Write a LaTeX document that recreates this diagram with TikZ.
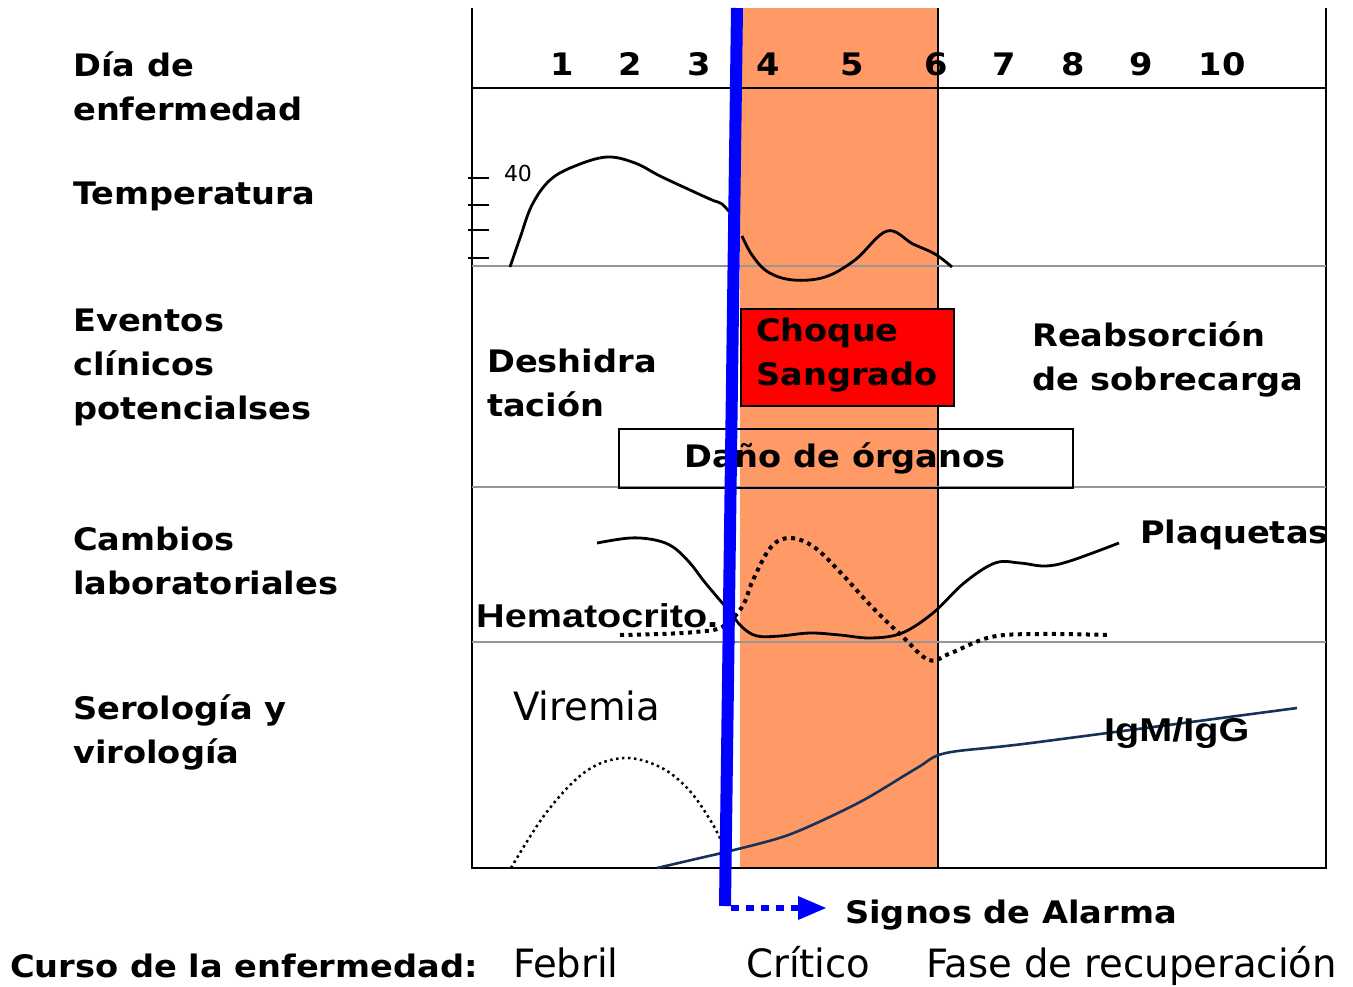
\documentclass[tikz,border=0pt]{standalone}
\usepackage{fontspec}
\setmainfont{DejaVu Sans}
\newfontfamily\vb[FakeStretch=1.085]{DejaVu Sans Bold}
\newfontfamily\ab[FakeStretch=1.2]{Liberation Sans Bold}
\newfontfamily\cn[FakeStretch=1.1]{DejaVu Sans Condensed}
\newfontfamily\djsans{DejaVu Sans}
\usetikzlibrary{arrows.meta}
\definecolor{band}{RGB}{255,153,102}
\definecolor{navy}{RGB}{22,50,90}
\definecolor{grayline}{RGB}{150,150,150}
\tikzset{
  lab/.style={anchor=west,align=left,inner sep=0pt,font=\vb\fontsize{31}{44}\selectfont},
  num/.style={inner sep=0pt,font=\vb\fontsize{31}{37}\selectfont},
  reg/.style={anchor=base west,inner sep=0pt,font=\cn\fontsize{39}{46}\selectfont},
  frame/.style={line width=2pt,black},
  sep/.style={line width=1.8pt,grayline},
  curve/.style={line width=2.8pt,black},
  dotc/.style={line width=4pt,black,dash pattern=on 4pt off 4.5pt},
  dotthin/.style={line width=2.5pt,black,dash pattern=on 2.5pt off 3.5pt},
}
\begin{document}
\begin{tikzpicture}[x=1pt,y=-1pt]
\useasboundingbox (0,0) rectangle (1353,986);
\fill[white] (0,0) rectangle (1353,986);
% orange band
\fill[band] (740,8) rectangle (938,868);
% frame
\draw[frame] (472,8) -- (472,868) -- (1326,868) -- (1326,8);
\draw[frame] (472,88) -- (1326,88);
\draw[frame] (938,8) -- (938,868);
\draw[sep] (472,266) -- (1326,266);
\draw[sep] (472,487) -- (1326,487);
\draw[sep] (472,642) -- (1326,642);
% day numbers
\foreach \x/\t in {562/1,630/2,699/3,768/4,852/5,936/6,1004/7,1073/8,1141/9,1222/10}
  \node[num] (d\t) at (\x,64) {\t};
% left labels
\node[lab] (ldia) at (73,86) {Día de\\enfermedad};
\node[lab] (ltemp) at (73,196) {Temperatura};
\node[lab] (lev) at (73,367) {Eventos\\clínicos\\potencialses};
\node[lab] (lcam) at (73,561) {Cambios\\laboratoriales};
\node[lab] (lser) at (73,732) {Serología y\\virología};
% temperature
\foreach \y in {178,205,230,258} \draw[line width=2pt] (468,\y) -- (489,\y);
\node[inner sep=0pt,font=\djsans\fontsize{22}{24}\selectfont] (t40) at (518,173) {40};
\draw[curve] plot[smooth,tension=0.6] coordinates {(510,267) (520,238) (532,205) (550,180) (575,166) (607,157) (635,163) (660,176) (690,190) (712,200) (722,204) (732,215)};
\draw[curve] plot[smooth,tension=0.6] coordinates {(742,236) (752,255) (768,272) (793,280) (825,277) (855,260) (887,231) (913,244) (935,254) (952,267)};
% events
\node[lab] (desh) at (487,383) {Deshidra\\tación};
\node[draw=black,line width=2pt,fill=red,minimum width=213pt,minimum height=97pt,anchor=north west,inner sep=0pt] (choque) at (740,308) {};
\node[lab] (choquet) at (756,355) {Choque\\Sangrado};
\node[lab] (reab) at (1032,359) {Reabsorción\\de sobrecarga};
\node[draw=black,line width=2pt,minimum width=454pt,minimum height=59pt,anchor=north west,inner sep=0pt] (dano) at (618,428) {};
\node[lab,anchor=center] (danot) at (845,458) {Daño de órganos};
% lab changes
\draw[curve] plot[smooth,tension=0.6] coordinates {(597,543) (630,538) (655,540) (673,547) (690,563) (703,580) (718,598) (730,612) (742,627) (757,636) (780,636) (810,633) (840,635) (871,638) (902,633) (933,613) (964,583) (995,563) (1020,563) (1045,566) (1070,561) (1119,543)};
\draw[dotc] plot[smooth,tension=0.6] coordinates {(620,635) (660,634) (695,632) (722,627) (742,607) (753,580) (771,547) (790,538) (814,547) (841,573) (872,607) (903,637) (929,660) (951,653) (991,637) (1039,634) (1110,635)};
\node[lab] (plaq) at (1140,535) {Plaquetas};
\node[anchor=west,inner sep=0pt,font=\ab\fontsize{33}{36}\selectfont] (hema) at (476,616) {Hematocrito.};
% serology
\node[reg] (vir) at (513,720) {Viremia};
\draw[dotthin] plot[smooth,tension=0.6] coordinates {(511,868) (546,813) (585,772) (623,758) (660,767) (689,790) (712,823) (724,847)};
\draw[line width=2.6pt,navy] plot[smooth,tension=0.5] coordinates {(657,868) (700,858) (734,850) (791,834) (860,802) (917,768) (946,753) (1031,743) (1297,708)};
\node[anchor=west,inner sep=0pt,font=\ab\fontsize{33}{36}\selectfont] (igm) at (1104,733) {IgM/IgG};
% blue marker
\coordinate (btop) at (737,8);
\coordinate (bbot) at (725,906);
\draw[blue,line width=12pt] (btop) -- (bbot);
\coordinate (arrs) at (731,908);
\coordinate (arre) at (800,908);
\draw[blue,line width=6pt,dash pattern=on 8pt off 7pt] (arrs) -- (arre);
\fill[blue] (798,896) -- (826,908) -- (798,920) -- cycle;
\node[lab] (signos) at (845,915) {Signos de Alarma};
% bottom
\node[lab] (curso) at (10,966) {Curso de la enfermedad:};
\node[reg] (febril) at (513,977) {Febril};
\node[reg] (critico) at (746,977) {Crítico};
\node[reg] (fase) at (926,977) {Fase de recuperación};
\end{tikzpicture}
\end{document}
